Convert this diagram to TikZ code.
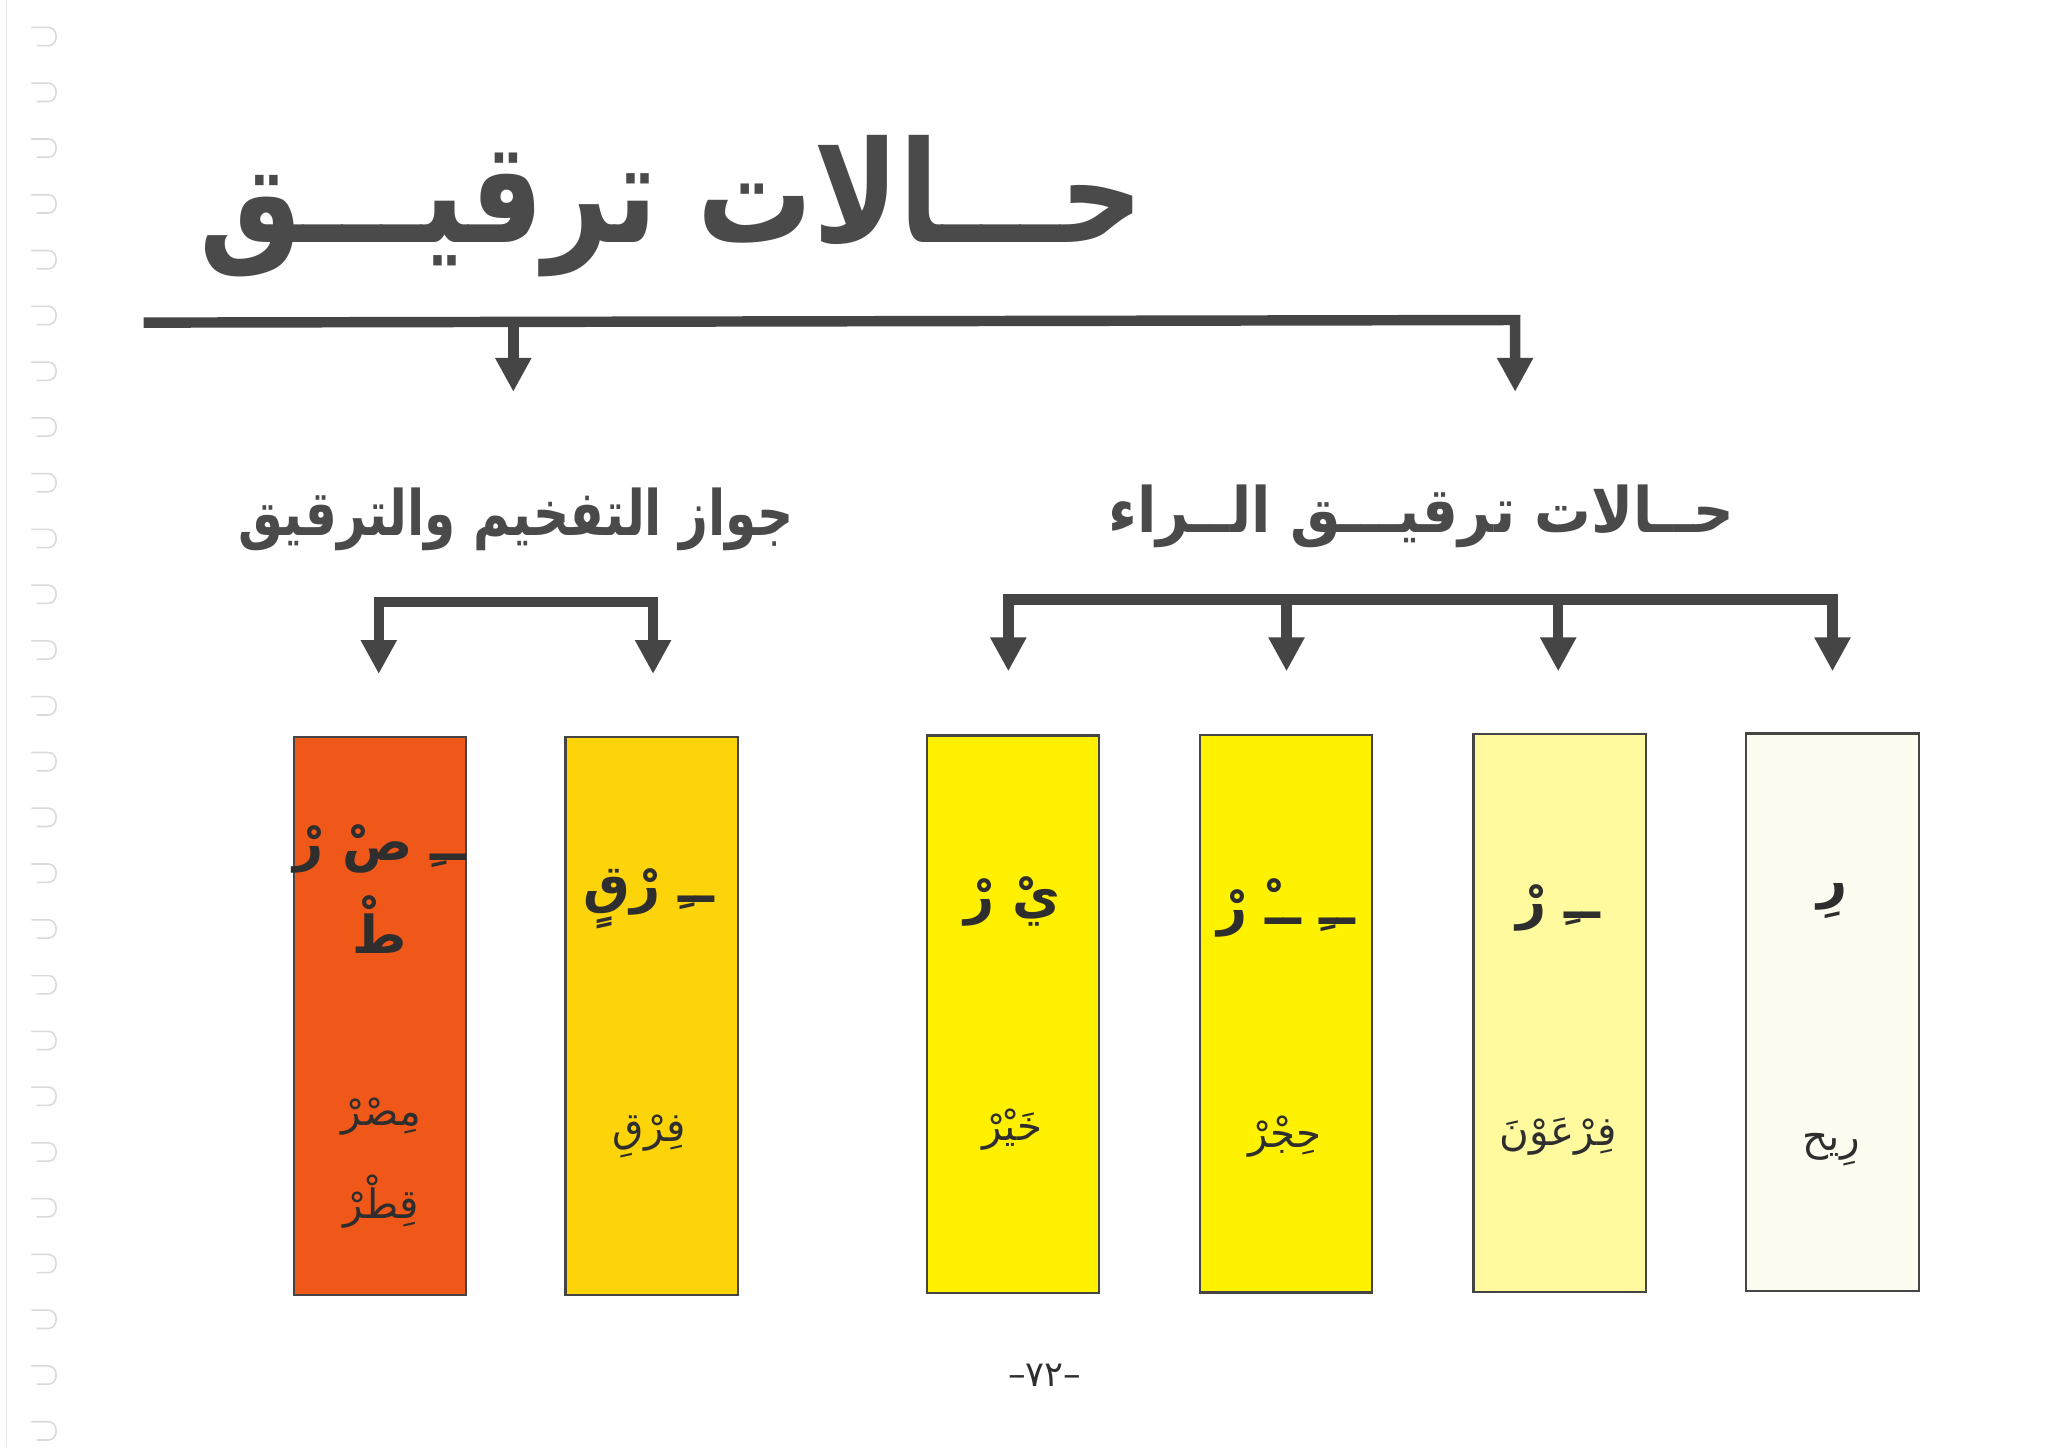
\documentclass[tikz,border=0pt]{standalone}
\usepackage{fontspec}
\usetikzlibrary{arrows.meta}
\TeXXeTstate=1
\newfontfamily\arabicfont[Script=Arabic]{DejaVu Sans}
\definecolor{ink}{HTML}{4A4A4A}
\definecolor{txt}{HTML}{2E2E2E}
\definecolor{edge}{HTML}{454545}
\definecolor{cRed}{HTML}{F0581A}
\definecolor{cGold}{HTML}{FDD40A}
\definecolor{cYel}{HTML}{FFF000}
\definecolor{cYel2}{HTML}{FFF200}
\definecolor{cLight}{HTML}{FFFA9E}
\definecolor{cPale}{HTML}{FDFCF0}
\definecolor{ringc}{HTML}{DADADA}
\tikzset{
  conn/.style={draw=edge, line width=8pt, -{Triangle[width=26pt,length=26pt]}},
  biconn/.style={draw=edge, line width=8pt, {Triangle[width=26pt,length=26pt]}-{Triangle[width=26pt,length=26pt]}},
  card/.style={draw=edge, line width=1.8pt, minimum width=132pt, minimum height=427pt, inner sep=0pt},
  bigtitle/.style={text=ink, inner sep=0pt, font=\arabicfont\bfseries\fontsize{108}{120}\selectfont},
  subtitle/.style={text=ink, inner sep=0pt, font=\arabicfont\bfseries\fontsize{48}{56}\selectfont},
  pattern/.style={text=txt, inner sep=0pt, font=\arabicfont\bfseries\fontsize{40}{46}\selectfont},
  word/.style={text=txt, inner sep=0pt, font=\arabicfont\fontsize{31}{36}\selectfont},
  ringline/.style={draw=ringc, line width=1.2pt}
}
\begin{document}
\begin{tikzpicture}[x=1pt,y=-1pt]
\fill[white] (0,0) rectangle (1568,1108);
\useasboundingbox (0,0) rectangle (1568,1108);
% spiral binding
\draw[draw=ringc!60, line width=1pt] (5,0) -- (5,1108);
\foreach \i in {0,...,25}{
  \pgfmathsetmacro\yy{28+42.7*\i}
  \draw[ringline] (24,\yy-7) -- (37,\yy-7) .. controls (45,\yy-7) and (45,\yy+7) .. (37,\yy+7) -- (28,\yy+7);
}
% titles
\node[bigtitle] (title) at (514,158) {\scalebox{0.815}[1]{\beginR حـــالات ترقيـــق\endR}};
\node[subtitle] (subL) at (395,398) {\scalebox{0.80}[1]{\beginR جواز التفخيم والترقيق\endR}};
\node[subtitle] (subR) at (1088,395) {\scalebox{0.90}[1]{\beginR حــالات ترقيـــق الــراء\endR}};
% top connector
\coordinate (topL) at (110,247);
\coordinate (topR) at (1160,245);
\coordinate (topM) at (393,247);
\coordinate (tipL) at (393,300);
\coordinate (tipR) at (1160,300);
\draw[conn] (topL) -- (topR) -- (tipR);
\draw[conn] (topM) -- (tipL);
% cards
\node[card, fill=cRed]   (b1) at (291,778) {};
\node[card, fill=cGold]  (b2) at (499,778) {};
\node[card, fill=cYel]   (b3) at (775.5,776.5) {};
\node[card, fill=cYel2]  (b4) at (984.5,776) {};
\node[card, fill=cLight] (b5) at (1194,775.5) {};
\node[card, fill=cPale]  (b6) at (1403,775) {};
% left bracket
\coordinate (lA) at (290,516);
\coordinate (lB) at (500,516);
\draw[biconn] (lA) -- (290,461) -- (500,461) -- (lB);
% right bracket
\coordinate (rA) at (772,514);
\coordinate (rB) at (985,514);
\coordinate (rC) at (1193,514);
\coordinate (rD) at (1403,514);
\draw[biconn] (rA) -- (772,459) -- (1403,459) -- (rD);
\draw[conn] (985,459) -- (rB);
\draw[conn] (1193,459) -- (rC);
% card texts
\node[pattern] (p1) at (291,650) {\beginR ــِ صْ رْ\endR};
\node[pattern] (p1b) at (291,708) {طْ};
\node[word] (w1) at (292,855) {\beginR مِصْرْ\endR};
\node[word] (w1b) at (292,920) {\beginR قِطْرْ\endR};
\node[pattern] (p2) at (497,688) {\beginR ــِ رْقٍ\endR};
\node[word] (w2) at (497,870) {\beginR فِرْقِ\endR};
\node[pattern] (p3) at (775,690) {\beginR يْ رْ\endR};
\node[word] (w3) at (775,865) {\beginR خَيْرْ\endR};
\node[pattern] (p4) at (985,695) {\beginR ــِ ــْ رْ\endR};
\node[word] (w4) at (984,870) {\beginR حِجْرْ\endR};
\node[pattern] (p5) at (1193,695) {\beginR ــِ رْ\endR};
\node[word] (w5) at (1193,870) {\beginR فِرْعَوْنَ\endR};
\node[pattern] (p6) at (1403,690) {\beginR رِ\endR};
\node[word] (w6) at (1402,880) {\beginR رِيح\endR};
% page number
\node[text=txt, font=\arabicfont\fontsize{27}{30}\selectfont] (page) at (800,1053) {–٧٢–};
\end{tikzpicture}
\end{document}
